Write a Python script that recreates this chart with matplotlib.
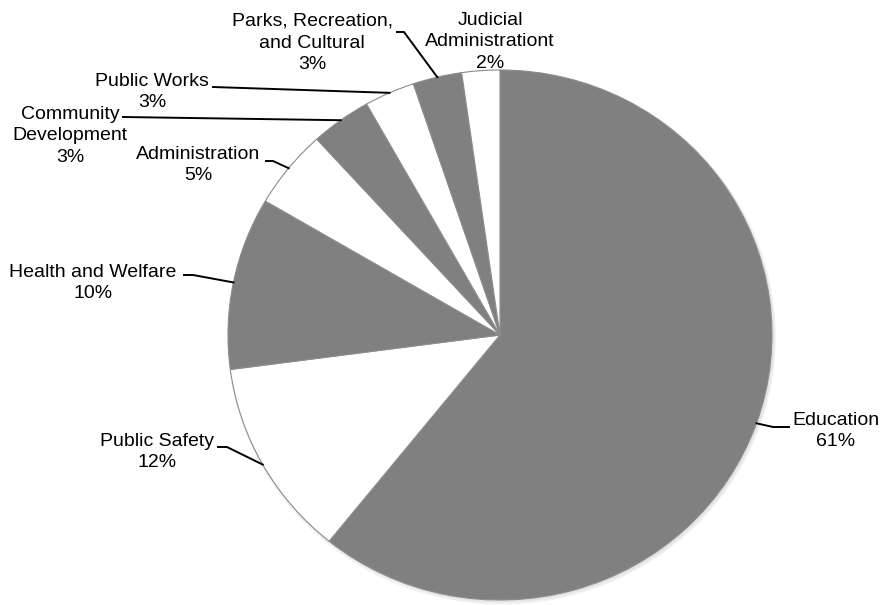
import numpy as np
import matplotlib.pyplot as plt
from matplotlib.patches import Ellipse

plt.rcParams['font.family'] = ['Liberation Sans', 'DejaVu Sans']

categories = ['Education', 'Public Safety', 'Health and Welfare', 'Administration',
              'Community\nDevelopment', 'Public Works', 'Parks, Recreation,\nand Cultural',
              'Judicial\nAdministrationt']
shares = [60.75, 12.1, 10.5, 4.8, 3.6, 3.0, 2.9, 2.25]
pct_labels = ['61%', '12%', '10%', '5%', '3%', '3%', '3%', '2%']
colors = ['#808080', 'white', '#808080', 'white', '#808080', 'white', '#808080', 'white']

W, H = 883, 605
CX, CY, RX, RY = 500, 335, 272, 265


def px(x, y):
    # pixel position -> data coords
    return (x - CX) / RX, (CY - y) / RY


# text centre (px), tail end near text (px), elbow (px) or None
layout = [
    ((836, 431), (789, 427), (773, 427)),
    ((157, 452), (218, 447), (227, 447)),
    ((93, 283), (184, 275), (193, 275)),
    ((198, 165), (266, 161), (273, 161)),
    ((70, 136), (123, 117), None),
    ((152, 92), (213, 87), None),
    ((312, 43), (397, 32), (404, 32)),
    ((490, 42), None, None),
]

fig = plt.figure(figsize=(W / 100, H / 100), dpi=100)
ax = fig.add_axes([0, 0, 1, 1])

# soft shadow
for k, c in enumerate(['#f0f0f0', '#e4e4e4']):
    ax.add_patch(Ellipse((0.006, -0.009 + 0.003 * k), 2.0 + 0.01 * (1 - k), 2.0 + 0.01 * (1 - k),
                         color=c, zorder=0))

wedges, _ = ax.pie(shares, colors=colors, startangle=90, counterclock=False,
                   radius=1.0, wedgeprops=dict(edgecolor='#8c8c8c', linewidth=0.8))
for w in wedges:
    w.set_zorder(1)

ax.set_aspect('auto')
ax.set_xlim((0 - CX) / RX, (W - CX) / RX)
ax.set_ylim((CY - H) / RY, CY / RY)
ax.axis('off')

cum = np.cumsum([0] + shares[:-1])
total = sum(shares)
for i, (name, pct) in enumerate(zip(categories, pct_labels)):
    mid = (cum[i] + shares[i] / 2) / total * 360
    theta = np.deg2rad(90 - mid)
    ex, ey = np.cos(theta), np.sin(theta)
    (tx, ty), tail, elbow = layout[i]
    ax.text(*px(tx, ty), name + '\n' + pct, ha='center', va='center',
            fontsize=14, color='black', linespacing=1.35, zorder=3)
    if tail is not None:
        pts = [px(*tail)]
        if elbow is not None:
            pts.append(px(*elbow))
        pts.append((ex, ey))
        xs, ys = zip(*pts)
        ax.plot(xs, ys, color='black', linewidth=1.4, zorder=2)

fig.savefig('out.png', dpi=100)
